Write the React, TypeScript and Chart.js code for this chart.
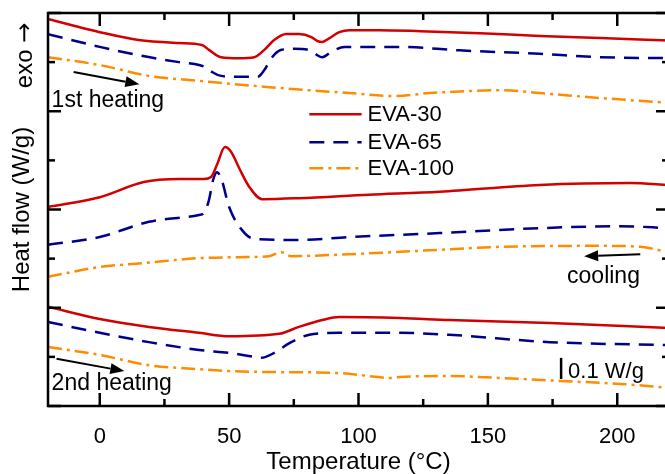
import React, { useEffect, useRef } from 'react';
import { Chart, registerables } from 'chart.js';

Chart.register(...registerables);

// ---- data (temperature °C, heat flow in arbitrary offset units) ----
const seriesNames = ['EVA-30', 'EVA-65', 'EVA-100'];
const xTicks = [0, 50, 100, 150, 200];
const xMinorTicks = [25, 75, 125, 175];
const yTicks = [0, 2, 4, 6, 8];
const yMinorTicks = [1, 3, 5, 7];

const heat1Eva30: number[][] = [[-20, 7.88], [-10, 7.74], [0, 7.61], [15, 7.45], [30.6, 7.39], [39.5, 7.35], [42.2, 7.25], [46.9, 7.1], [53.9, 7.08], [59.7, 7.1], [63.6, 7.25], [67.4, 7.45], [72.1, 7.57], [77, 7.57], [81.8, 7.51], [84.1, 7.43], [86, 7.41], [88.8, 7.49], [92.6, 7.61], [96.5, 7.65], [108, 7.65], [124, 7.63], [147, 7.59], [170, 7.53], [193.4, 7.49], [220, 7.44]];
const heat1Eva65: number[][] = [[-20, 7.57], [0, 7.31], [15, 7.14], [30.6, 7.0], [38.4, 6.94], [41.5, 6.88], [43.4, 6.8], [46.9, 6.72], [53.9, 6.7], [60.9, 6.7], [63.6, 6.84], [66.3, 7.08], [70.2, 7.25], [75.2, 7.27], [81.8, 7.23], [84.1, 7.14], [86, 7.1], [89.5, 7.21], [94.6, 7.31], [115.9, 7.31], [139, 7.24], [170, 7.17], [193.4, 7.1], [220, 7.08]];
const heat1Eva100: number[][] = [[-20, 7.1], [0, 6.94], [19, 6.72], [38.4, 6.62], [65.5, 6.49], [96.5, 6.37], [114, 6.31], [127.5, 6.37], [143, 6.41], [154.7, 6.43], [170, 6.37], [193.4, 6.27], [220, 6.17]];

const coolEva30: number[][] = [[-20, 4.05], [0, 4.25], [17, 4.56], [30.6, 4.62], [40.3, 4.62], [43, 4.66], [45.3, 4.91], [48.4, 5.27], [50.8, 5.17], [53.9, 4.84], [57.8, 4.46], [62.8, 4.21], [77, 4.23], [104, 4.3], [131.4, 4.36], [170, 4.5], [205, 4.54], [220, 4.5]];
const coolEva65: number[][] = [[-20, 3.28], [0, 3.44], [19, 3.75], [38.4, 3.89], [40.3, 3.93], [42.2, 4.19], [43.8, 4.6], [45.3, 4.76], [46.9, 4.64], [50, 4.05], [55, 3.58], [59.7, 3.4], [77, 3.38], [96.5, 3.44], [131.4, 3.52], [170, 3.62], [201, 3.66], [220, 3.62]];
const coolEva100: number[][] = [[-20, 2.63], [0, 2.83], [17, 2.91], [38.4, 3.01], [53.9, 3.03], [65.5, 3.05], [70.2, 3.13], [74, 3.05], [96.5, 3.09], [131.4, 3.18], [154.7, 3.24], [193.4, 3.26], [209, 3.24], [220, 3.13]];

const heat2Eva30: number[][] = [[-20, 2.02], [0, 1.77], [19, 1.61], [38.4, 1.49], [50, 1.42], [69.4, 1.47], [77, 1.61], [86, 1.75], [92.6, 1.81], [116, 1.79], [135, 1.75], [174, 1.69], [220, 1.59]];
const heat2Eva65: number[][] = [[-20, 1.71], [0, 1.49], [19, 1.3], [38.4, 1.14], [50, 1.08], [59.7, 1.0], [62.4, 0.98], [67.4, 1.08], [73.3, 1.28], [81, 1.45], [92.6, 1.49], [116, 1.49], [135, 1.45], [174, 1.3], [220, 1.24]];
const heat2Eva100: number[][] = [[-20, 1.2], [0, 1.04], [19, 0.83], [38.4, 0.75], [50, 0.71], [69.4, 0.69], [92.6, 0.67], [104, 0.61], [112, 0.57], [116, 0.59], [135, 0.61], [154.7, 0.57], [178, 0.51], [201, 0.45], [220, 0.37]];

// ---- styles ----
const FONT = '"Liberation Sans", Arial, Helvetica, sans-serif';
const styles = [
  { color: '#d20000', dash: [] as number[], width: 2.5 },
  { color: '#00008c', dash: [15, 9], width: 2.5 },
  { color: '#ff8c00', dash: [14, 5, 3, 5], width: 2.5 },
];

const segments = [
  [heat1Eva30, heat1Eva65, heat1Eva100],
  [coolEva30, coolEva65, coolEva100],
  [heat2Eva30, heat2Eva65, heat2Eva100],
];

const framePlugin = {
  id: 'frameTicks',
  afterDraw(chart: any) {
    const { ctx, chartArea: a, scales } = chart;
    const xs = scales.x;
    const ys = scales.y;
    const MAJOR = 13;
    const MINOR = 7;
    ctx.save();
    ctx.strokeStyle = '#000';
    ctx.lineWidth = 2.5;
    const seg = (x1: number, y1: number, x2: number, y2: number) => {
      ctx.beginPath();
      ctx.moveTo(x1, y1);
      ctx.lineTo(x2, y2);
      ctx.stroke();
    };
    xTicks.forEach((v) => {
      const p = xs.getPixelForValue(v);
      seg(p, a.bottom, p, a.bottom - MAJOR);
      seg(p, a.top, p, a.top + MAJOR);
    });
    xMinorTicks.forEach((v) => {
      const p = xs.getPixelForValue(v);
      seg(p, a.bottom, p, a.bottom - MINOR);
      seg(p, a.top, p, a.top + MINOR);
    });
    yTicks.forEach((v) => {
      const p = ys.getPixelForValue(v);
      seg(a.left, p, a.left + MAJOR, p);
      seg(a.right, p, a.right - MAJOR, p);
    });
    yMinorTicks.forEach((v) => {
      const p = ys.getPixelForValue(v);
      seg(a.left, p, a.left + MINOR, p);
      seg(a.right, p, a.right - MINOR, p);
    });
    ctx.strokeRect(a.left, a.top, a.right - a.left, a.bottom - a.top);
    ctx.restore();
  },
};

const annotationPlugin = {
  id: 'annotations',
  afterDatasetsDraw(chart: any) {
    const { ctx, scales } = chart;
    const X = (v: number) => scales.x.getPixelForValue(v);
    const Y = (v: number) => scales.y.getPixelForValue(v);
    ctx.save();
    ctx.fillStyle = '#000';
    ctx.strokeStyle = '#000';

    const arrow = (t1: number, v1: number, t2: number, v2: number) => {
      const x1 = X(t1), y1 = Y(v1), x2 = X(t2), y2 = Y(v2);
      const ang = Math.atan2(y2 - y1, x2 - x1);
      const L = 14, W = 5.5;
      const bx = x2 - L * Math.cos(ang), by = y2 - L * Math.sin(ang);
      ctx.lineWidth = 2;
      ctx.beginPath();
      ctx.moveTo(x1, y1);
      ctx.lineTo(bx, by);
      ctx.stroke();
      ctx.beginPath();
      ctx.moveTo(x2, y2);
      ctx.lineTo(bx + W * Math.sin(ang), by - W * Math.cos(ang));
      ctx.lineTo(bx - W * Math.sin(ang), by + W * Math.cos(ang));
      ctx.closePath();
      ctx.fill();
    };

    ctx.font = `23px ${FONT}`;
    ctx.textAlign = 'left';
    ctx.textBaseline = 'alphabetic';
    ctx.fillText('1st heating', X(-18.6), Y(6.09));
    arrow(-10.1, 6.8, 15.3, 6.55);
    ctx.fillText('cooling', X(180.6), Y(2.5));
    arrow(208.9, 3.09, 187.2, 3.05);
    ctx.fillText('2nd heating', X(-18.6), Y(0.33));
    arrow(-16.7, 0.96, 9.5, 0.71);

    // scale bar 0.1 W/g
    ctx.lineWidth = 2.5;
    ctx.beginPath();
    ctx.moveTo(X(178.3), Y(0.55));
    ctx.lineTo(X(178.3), Y(0.98));
    ctx.stroke();
    ctx.font = `22px ${FONT}`;
    ctx.fillText('0.1 W/g', X(181), Y(0.57));

    // exo arrow label (reads bottom to top)
    ctx.save();
    ctx.translate(25, Y(6.47));
    ctx.rotate(-Math.PI / 2);
    ctx.textAlign = 'left';
    ctx.textBaseline = 'middle';
    ctx.font = `24px ${FONT}`;
    const exo = 'exo ';
    ctx.fillText(exo, 0, 0);
    const w = ctx.measureText(exo).width;
    ctx.font = `24px "DejaVu Sans", ${FONT}`;
    ctx.fillText('\u2192', w, 1);
    ctx.restore();

    // legend
    const rows = [5.94, 5.37, 4.84];
    ctx.font = `22px ${FONT}`;
    ctx.textBaseline = 'middle';
    seriesNames.forEach((name, i) => {
      const ds = chart.data.datasets[i];
      const y = Y(rows[i]);
      ctx.save();
      ctx.strokeStyle = ds.borderColor;
      ctx.lineWidth = ds.borderWidth;
      ctx.setLineDash(ds.borderDash);
      ctx.beginPath();
      ctx.moveTo(X(81), y);
      ctx.lineTo(X(101.2), y);
      ctx.stroke();
      ctx.restore();
      ctx.fillStyle = '#000';
      ctx.fillText(name, X(103.5), y + 1);
    });
    ctx.restore();
  },
};

export default function App() {
  const ref = useRef<HTMLCanvasElement>(null);
  useEffect(() => {
    if (!ref.current) return;
    const datasets: any[] = [];
    segments.forEach((seg, si) => {
      seg.forEach((pts, i) => {
        datasets.push({
          label: si === 0 ? seriesNames[i] : `${seriesNames[i]} (${si})`,
          data: pts.map(([x, y]) => ({ x, y })),
          borderColor: styles[i].color,
          borderDash: styles[i].dash,
          borderWidth: styles[i].width,
          pointRadius: 0,
          fill: false,
          cubicInterpolationMode: 'monotone',
        });
      });
    });
    const chart = new Chart(ref.current, {
      type: 'line',
      data: { datasets },
      options: {
        animation: false,
        responsive: false,
        layout: { padding: { top: 13, right: 3, left: 0, bottom: 0 } },
        plugins: { legend: { display: false }, tooltip: { enabled: false } },
        scales: {
          x: {
            type: 'linear',
            min: -20,
            max: 220,
            grid: { display: false, drawTicks: false },
            border: { display: false },
            afterBuildTicks: (s: any) => {
              s.ticks = xTicks.map((v) => ({ value: v }));
            },
            afterFit: (s: any) => {
              s.height = 68;
            },
            ticks: { color: '#000', font: { size: 22, family: FONT }, padding: 18, maxRotation: 0 },
            title: {
              display: true,
              text: 'Temperature (°C)',
              color: '#000',
              font: { size: 24, family: FONT, lineHeight: 1 },
              padding: { top: 0, bottom: 0 },
            },
          },
          y: {
            type: 'linear',
            min: 0,
            max: 8,
            grid: { display: false, drawTicks: false },
            border: { display: false },
            afterBuildTicks: (s: any) => {
              s.ticks = yTicks.map((v) => ({ value: v }));
            },
            afterFit: (s: any) => {
              s.width = 48;
            },
            ticks: { display: false },
            title: {
              display: true,
              text: 'Heat flow (W/g)',
              color: '#000',
              font: { size: 24, family: FONT, lineHeight: 1 },
              padding: { top: 10, bottom: 0 },
            },
          },
        },
      },
      plugins: [framePlugin, annotationPlugin],
    });
    return () => chart.destroy();
  }, []);
  return (
    <div style={{ position: 'fixed', left: 0, top: 0, width: 665, height: 474, overflow: 'hidden', background: '#fff' }}>
      <canvas ref={ref} width={672} height={474} style={{ display: 'block' }} />
    </div>
  );
}
